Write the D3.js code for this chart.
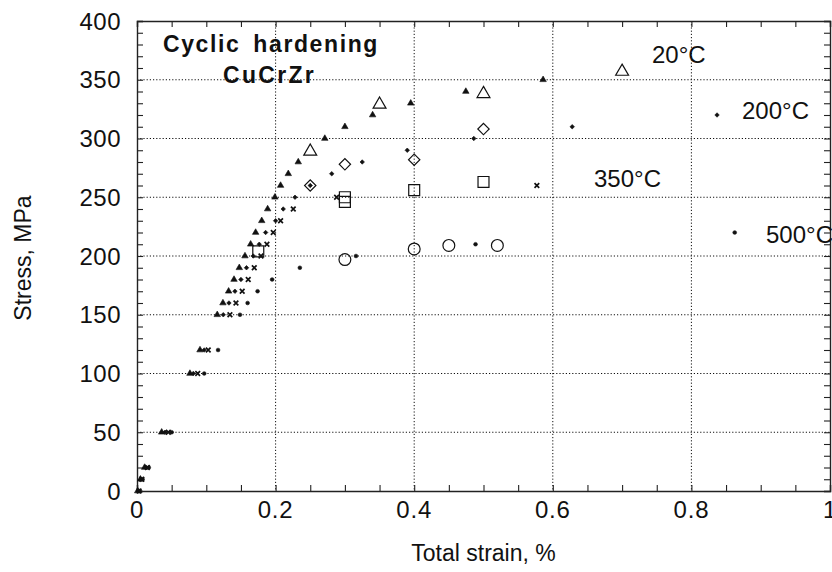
<!DOCTYPE html>
<html>
<head>
<meta charset="utf-8">
<script src="https://cdn.jsdelivr.net/npm/d3@7"></script>
<style>
  html, body { margin: 0; padding: 0; background: #fff; }
  svg { display: block; }
  text { font-family: "Liberation Sans", Arial, Helvetica, sans-serif; fill: #111; }
</style>
</head>
<body>
<svg id="chart" width="832" height="572"></svg>
<script>
// ---------- DATA ----------
// Small markers: cyclic stress–strain points (stress in MPa, strain in %)
const t20Stress  = [0, 10, 20, 50, 100, 120, 150, 160, 170, 180, 190, 200, 210, 220, 230, 240, 250, 260, 270, 280, 300, 310, 320, 330, 340, 350];
const t20Strain  = [0.001, 0.005, 0.011, 0.0356, 0.0764, 0.0909, 0.1158, 0.124, 0.1322, 0.140, 0.1476, 0.1558, 0.164, 0.1712, 0.180, 0.1885, 0.199, 0.2072, 0.2183, 0.2327, 0.271, 0.300, 0.340, 0.395, 0.4745, 0.586];

const t200Stress = [0, 10, 20, 50, 100, 120, 150, 160, 170, 180, 190, 200, 210, 220, 230, 240, 250, 260, 270, 280, 290, 300, 310, 320];
const t200Strain = [0.002, 0.006, 0.013, 0.0404, 0.0812, 0.097, 0.1245, 0.1327, 0.1413, 0.150, 0.158, 0.1677, 0.1764, 0.1856, 0.200, 0.211, 0.228, 0.250, 0.281, 0.325, 0.390, 0.486, 0.628, 0.837];

const t350Stress = [0, 10, 20, 50, 100, 120, 150, 160, 170, 180, 190, 200, 210, 220, 230, 240, 250, 260];
const t350Strain = [0.003, 0.007, 0.015, 0.0452, 0.0876, 0.1028, 0.1341, 0.1428, 0.1518, 0.1605, 0.1692, 0.1789, 0.1875, 0.1966, 0.2072, 0.2255, 0.288, 0.577];

const t500Stress = [0, 10, 20, 50, 100, 120, 150, 160, 170, 180, 190, 200, 210, 220];
const t500Strain = [0.004, 0.008, 0.017, 0.050, 0.097, 0.117, 0.1486, 0.1596, 0.174, 0.195, 0.235, 0.316, 0.4885, 0.8625];

// Large open markers: saturated cyclic values
const big20Strain  = [0.25, 0.35, 0.50, 0.70];
const big20Stress  = [289, 329, 338, 357];
const big200Strain = [0.25, 0.30, 0.40, 0.50];
const big200Stress = [260, 278, 282, 308];
const big350Strain = [0.175, 0.30, 0.30, 0.40, 0.50];
const big350Stress = [204, 250, 246, 256, 263];
const big500Strain = [0.30, 0.40, 0.45, 0.52];
const big500Stress = [197, 206, 209, 209];

const xTicks = [0, 0.2, 0.4, 0.6, 0.8, 1];
const yTicks = [0, 50, 100, 150, 200, 250, 300, 350, 400];
const tempLabels = ["20°C", "200°C", "350°C", "500°C"];

// ---------- LAYOUT ----------
const svg = d3.select("#chart");
const L = 137, R = 830, T = 21, B = 491;
const x = d3.scaleLinear().domain([0, 1]).range([L, R]);
const y = d3.scaleLinear().domain([0, 400]).range([B, T]);

// Grid lines (dotted)
const grid = svg.append("g");
grid.selectAll("line.gx").data(xTicks.filter(d => d > 0 && d < 1)).join("line")
  .attr("x1", d => x(d)).attr("x2", d => x(d)).attr("y1", T).attr("y2", B)
  .attr("stroke", "#111").attr("stroke-width", 1).attr("stroke-dasharray", "1.2,2");
grid.selectAll("line.gy").data(yTicks.filter(d => d > 0 && d < 400)).join("line")
  .attr("y1", d => y(d)).attr("y2", d => y(d)).attr("x1", L).attr("x2", R)
  .attr("stroke", "#111").attr("stroke-width", 1).attr("stroke-dasharray", "1.2,2");

// Axes (ticks inward, minor ticks)
const xMinor = d3.range(0, 1.0001, 0.05);
const yMinor = d3.range(0, 400.01, 10);
const axB = svg.append("g").attr("transform", `translate(0,${B})`)
  .call(d3.axisBottom(x).tickValues(xMinor).tickSize(-6).tickFormat(""));
const axT = svg.append("g").attr("transform", `translate(0,${T})`)
  .call(d3.axisTop(x).tickValues(xMinor).tickSize(-6).tickFormat(""));
const axL = svg.append("g").attr("transform", `translate(${L},0)`)
  .call(d3.axisLeft(y).tickValues(yMinor).tickSize(-6).tickFormat(""));
const axR = svg.append("g").attr("transform", `translate(${R},0)`)
  .call(d3.axisRight(y).tickValues(yMinor).tickSize(-6).tickFormat(""));
[axB, axT, axL, axR].forEach(a => {
  a.select(".domain").attr("stroke", "#222").attr("stroke-width", 1.4);
  a.selectAll(".tick line").attr("stroke", "#222").attr("stroke-width", 1.1);
});

// Tick labels
svg.append("g").selectAll("text").data(xTicks).join("text")
  .attr("x", d => x(d)).attr("y", 518)
  .attr("text-anchor", "middle").attr("font-size", 24).attr("letter-spacing", 0.8)
  .text(d => d3.format("~g")(d));
svg.append("g").selectAll("text").data(yTicks).join("text")
  .attr("x", 121).attr("y", d => y(d)).attr("dy", "0.36em")
  .attr("text-anchor", "end").attr("font-size", 24).attr("letter-spacing", 0.5)
  .text(d => d);

// Axis titles
svg.append("text").attr("x", (L + R) / 2).attr("y", 561)
  .attr("text-anchor", "middle").attr("font-size", 23).text("Total strain, %");
svg.append("text").attr("transform", "translate(31,258) rotate(-90)")
  .attr("text-anchor", "middle").attr("font-size", 23).text("Stress, MPa");

// Title
svg.append("text").attr("x", 163).attr("y", 52).attr("font-size", 23)
  .attr("font-weight", "bold").attr("letter-spacing", 1.6).attr("word-spacing", 5)
  .text("Cyclic hardening");
svg.append("text").attr("x", 223).attr("y", 83).attr("font-size", 23)
  .attr("font-weight", "bold").attr("letter-spacing", 2.3)
  .text("CuCrZr");

// Temperature labels
const labelPos = [[652, 63], [742, 119], [594, 187], [766, 243]];
svg.append("g").selectAll("text").data(tempLabels).join("text")
  .attr("x", (d, i) => labelPos[i][0]).attr("y", (d, i) => labelPos[i][1])
  .attr("font-size", 24).text(d => d);

// ---------- MARKERS ----------
const zip = (xs, ys) => xs.map((v, i) => ({ x: v, y: ys[i] }));
const plot = svg.append("g");

function small(data, type, size, rot) {
  plot.append("g").selectAll("path").data(data).join("path")
    .attr("transform", d => `translate(${x(d.x)},${y(d.y)})` + (rot ? ` rotate(${rot})` : ""))
    .attr("d", d3.symbol().type(type).size(size))
    .attr("fill", "#111").attr("stroke", "#111").attr("stroke-width", 0.6);
}
function big(data, type, size, rot) {
  plot.append("g").selectAll("path").data(data).join("path")
    .attr("transform", d => `translate(${x(d.x)},${y(d.y)})` + (rot ? ` rotate(${rot})` : ""))
    .attr("d", d3.symbol().type(type).size(size))
    .attr("fill", "none").attr("stroke", "#111").attr("stroke-width", 1.2);
}

small(zip(t20Strain, t20Stress), d3.symbolTriangle, 18, 0);
small(zip(t200Strain, t200Stress), d3.symbolSquare, 10, 45);
plot.append("g").selectAll("path").data(zip(t350Strain, t350Stress)).join("path")
  .attr("transform", d => `translate(${x(d.x)},${y(d.y)})`)
  .attr("d", d3.symbol().type(d3.symbolTimes).size(16))
  .attr("fill", "none").attr("stroke", "#111").attr("stroke-width", 1.7);
small(zip(t500Strain, t500Stress), d3.symbolCircle, 11, 0);

big(zip(big20Strain, big20Stress), d3.symbolTriangle, 72, 0);
big(zip(big200Strain, big200Stress), d3.symbolSquare, 64, 45);
big(zip(big350Strain, big350Stress), d3.symbolSquare, 120, 0);
big(zip(big500Strain, big500Stress), d3.symbolCircle, 110, 0);
</script>
</body>
</html>
